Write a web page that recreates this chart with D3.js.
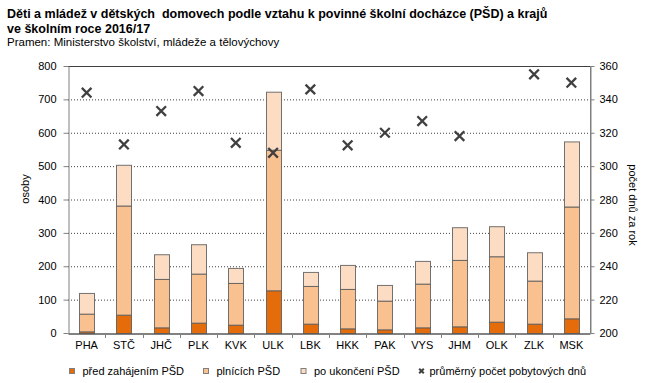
<!DOCTYPE html>
<html>
<head>
<meta charset="utf-8">
<script src="https://cdn.jsdelivr.net/npm/d3@7"></script>
<style>
  body { margin: 0; background: #fff; }
  svg { font-family: "Liberation Sans", Arial, sans-serif; }
</style>
</head>
<body>
<svg id="chart" width="652" height="383"></svg>
<script>
const regions = ["PHA", "STČ", "JHČ", "PLK", "KVK", "ULK", "LBK", "HKK", "PAK", "VYS", "JHM", "OLK", "ZLK", "MSK"];
const beforeSchool = [5, 55, 17, 31, 25, 128, 28, 14, 11, 17, 20, 34, 28, 44];
const inSchool = [53, 327, 145, 147, 125, 421, 113, 118, 86, 131, 199, 196, 129, 335];
const afterSchool = [62, 122, 74, 88, 45, 174, 42, 72, 47, 68, 98, 90, 85, 195];
const stayDays = [344, 313, 333, 345, 314, 308, 346, 312.5, 320, 327, 318, null, 355, 350];
const leftTicks = [0, 100, 200, 300, 400, 500, 600, 700, 800];
const rightTicks = [200, 220, 240, 260, 280, 300, 320, 340, 360];
const seriesNames = ["před zahájením PŠD", "plnících PŠD", "po ukončení PŠD"];
const colors = ["#e46c0a", "#f9c090", "#fcdcc2"];

const svg = d3.select("#chart");
const plotL = 68, plotR = 590, plotT = 66, plotB = 333;

const rows = regions.map((r, i) => ({
  region: r,
  a: beforeSchool[i],
  b: inSchool[i],
  c: afterSchool[i],
  days: stayDays[i]
}));

const x = d3.scaleBand().domain(regions).range([plotL, plotR]);
const y = d3.scaleLinear().domain([0, 800]).range([plotB, plotT]);
const y2 = d3.scaleLinear().domain([200, 360]).range([plotB, plotT]);

// title
svg.append("text").attr("x", 7).attr("y", 18).attr("font-size", 12.5).attr("font-weight", "bold")
  .style("white-space", "pre")
  .text("Děti a mládež v dětských  domovech podle vztahu k povinné školní docházce (PŠD) a krajů");
svg.append("text").attr("x", 7).attr("y", 33).attr("font-size", 12.5).attr("font-weight", "bold")
  .text("ve školním roce 2016/17");
svg.append("text").attr("x", 7).attr("y", 46).attr("font-size", 11.5)
  .text("Pramen: Ministerstvo školství, mládeže a tělovýchovy");

// gridlines
svg.append("g").selectAll("line").data(leftTicks.filter(t => t > 0 && t < 800)).join("line")
  .attr("x1", plotL).attr("x2", plotR)
  .attr("y1", d => y(d) + 0.5).attr("y2", d => y(d) + 0.5)
  .attr("stroke", "#404040").attr("stroke-dasharray", "1,2");

// frame
svg.append("line").attr("x1", plotL).attr("x2", plotR).attr("y1", plotT + 0.5).attr("y2", plotT + 0.5).attr("stroke", "#404040");
svg.append("line").attr("x1", plotR + 0.5).attr("x2", plotR + 0.5).attr("y1", plotT).attr("y2", plotB).attr("stroke", "#808080");

// stacked bars
const stack = d3.stack().keys(["a", "b", "c"])(rows);
const bw = 15;
svg.append("g").selectAll("g").data(stack).join("g")
  .attr("fill", (d, i) => colors[i])
  .selectAll("rect").data(d => d).join("rect")
  .attr("x", d => Math.round(x(d.data.region) + x.bandwidth() / 2 - bw / 2) + 0.5)
  .attr("width", bw)
  .attr("y", d => y(d[1]) + 0.5)
  .attr("height", d => Math.max(0, y(d[0]) - y(d[1])))
  .attr("stroke", "#5a5a5a").attr("stroke-opacity", 0.85).attr("stroke-width", 1);

// left axis
const yAxis = svg.append("g").attr("transform", `translate(${plotL + 0.5},0)`)
  .call(d3.axisLeft(y).tickValues(leftTicks).tickSize(5).tickSizeOuter(0));
yAxis.select(".domain").attr("stroke", "#808080");
yAxis.selectAll(".tick line").attr("stroke", "#808080");
yAxis.selectAll("text").attr("font-size", 11).attr("fill", "#000").attr("x", -12)
  .attr("font-family", "Liberation Sans, Arial, sans-serif");

// right axis
const y2Axis = svg.append("g").attr("transform", `translate(${plotR + 0.5},0)`)
  .call(d3.axisRight(y2).tickValues(rightTicks).tickSize(4).tickSizeOuter(0));
y2Axis.select(".domain").attr("stroke", "#808080");
y2Axis.selectAll(".tick line").attr("stroke", "#808080");
y2Axis.selectAll("text").attr("font-size", 11).attr("fill", "#000").attr("x", 9)
  .attr("font-family", "Liberation Sans, Arial, sans-serif");

// x axis
const xAxis = svg.append("g").attr("transform", `translate(0,${plotB + 0.5})`)
  .call(d3.axisBottom(x).tickSize(0).tickSizeOuter(0));
xAxis.select(".domain").attr("stroke", "#595959").attr("stroke-width", 1.5);
xAxis.selectAll("text").attr("font-size", 11).attr("fill", "#000").attr("dy", "1.1em")
  .attr("font-family", "Liberation Sans, Arial, sans-serif");
svg.append("g").selectAll("line").data(regions.slice(1)).join("line")
  .attr("x1", d => Math.round(x(d)) + 0.5).attr("x2", d => Math.round(x(d)) + 0.5)
  .attr("y1", plotB).attr("y2", plotB + 5)
  .attr("stroke", "#808080");

// markers
const mk = 4.8;
svg.append("g").selectAll("path").data(rows.filter(d => d.days != null)).join("path")
  .attr("transform", d => `translate(${x(d.region) + x.bandwidth() / 2},${y2(d.days)})`)
  .attr("d", `M${-mk},${-mk}L${mk},${mk}M${-mk},${mk}L${mk},${-mk}`)
  .attr("stroke", "#404040").attr("stroke-width", 2.3).attr("fill", "none");

// axis titles
svg.append("text").attr("transform", "translate(29,189) rotate(-90)")
  .attr("text-anchor", "middle").attr("font-size", 11).text("osoby");
svg.append("text").attr("transform", "translate(629,205) rotate(90)")
  .attr("text-anchor", "middle").attr("font-size", 11).text("počet dnů za rok");

// legend
const legend = svg.append("g").attr("font-size", 11);
const legX = [72, 206, 303.5];
seriesNames.forEach((n, i) => {
  legend.append("rect").attr("x", legX[i] - 2.5).attr("y", 368.5).attr("width", 5).attr("height", 5)
    .attr("fill", colors[i]).attr("stroke", "#7f7f7f");
  legend.append("text").attr("x", legX[i] + 10.5).attr("y", 375).text(n);
});
const lmx = 421.5, lmy = 371, lk = 2.3;
legend.append("path").attr("d", `M${lmx - lk},${lmy - lk}L${lmx + lk},${lmy + lk}M${lmx - lk},${lmy + lk}L${lmx + lk},${lmy - lk}`)
  .attr("stroke", "#404040").attr("stroke-width", 2);
legend.append("text").attr("x", lmx + 8).attr("y", 375).text("průměrný počet pobytových dnů");
</script>
</body>
</html>
